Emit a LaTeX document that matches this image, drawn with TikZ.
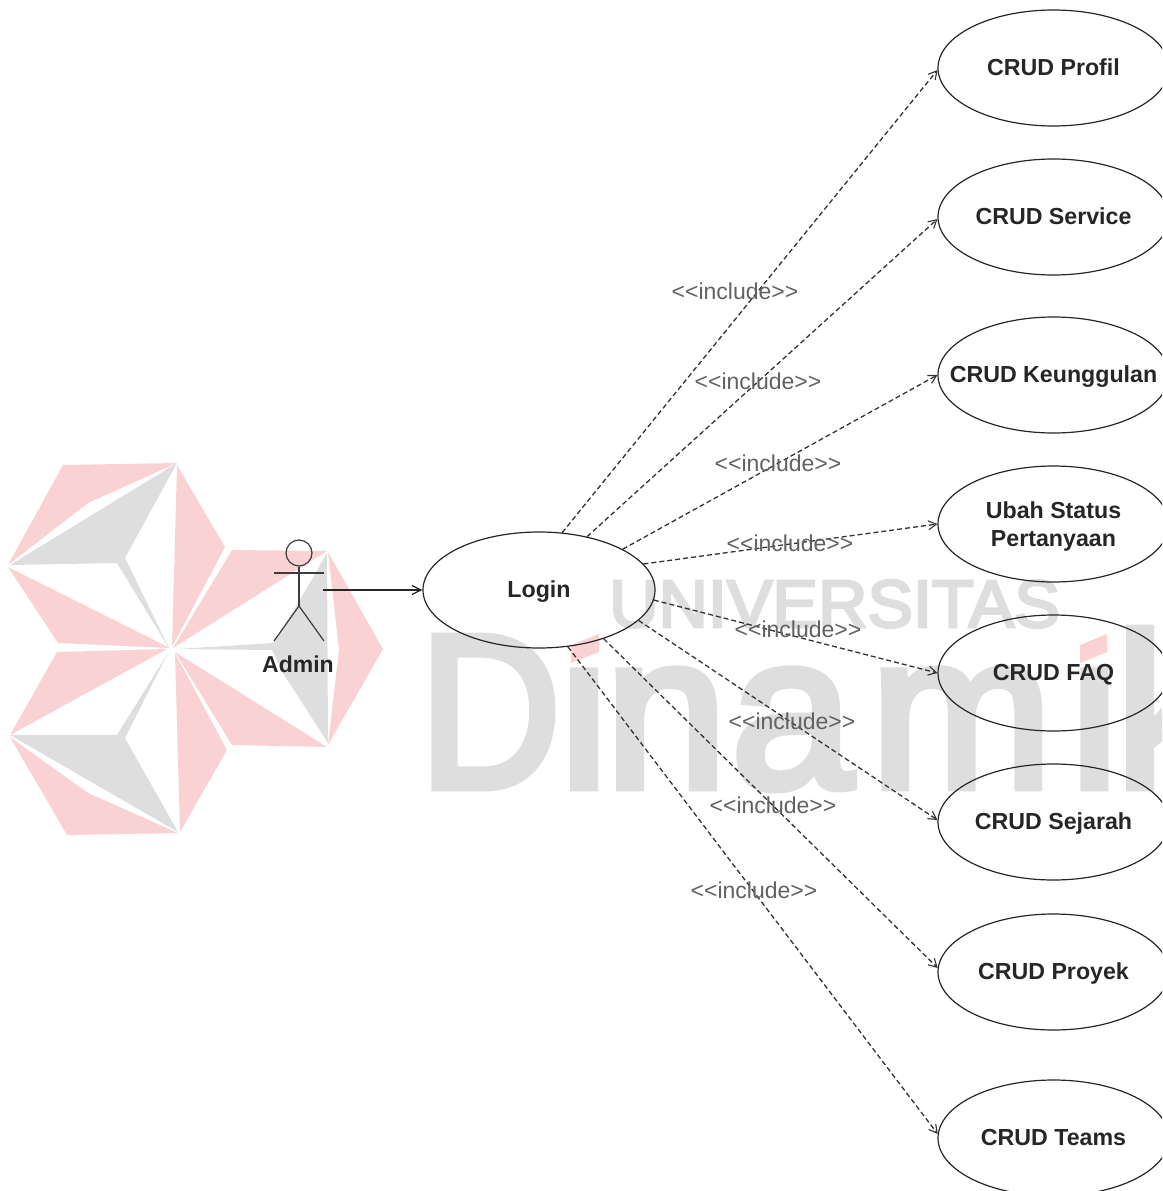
\documentclass[tikz,border=0pt]{standalone}
\usepackage{graphicx}
\usepackage{fontspec}
\setmainfont{Liberation Sans}
\newfontfamily\wmfont[FakeBold=4]{Liberation Sans}
\usetikzlibrary{arrows.meta,shapes.geometric}
\definecolor{wmgray}{HTML}{DEDEDE}
\definecolor{wmpink}{HTML}{FAD2D4}
\definecolor{ink}{HTML}{262626}
\newcommand{\incltxt}{{<}{<}include{>}{>}}
\newcommand{\lowerline}[1]{\raisebox{-2pt}[\height][\depth]{#1}}
\tikzset{
  usecase/.style={draw=ink,line width=1.2pt,ellipse,minimum width=231pt,minimum height=116pt,inner sep=0pt,align=center,text=ink,font=\fontsize{23.2}{28}\selectfont\bfseries},
  oneline/.style={text height=17.5pt,text depth=2pt},
  incl/.style={draw=black!80,line width=1.3pt,dash pattern=on 5pt off 3pt,-{Straight Barb[length=8pt,width=9pt,line width=1.1pt]}},
  incllabel/.style={text=black!62,inner sep=0pt,font=\fontsize{23}{26}\selectfont},
  assoc/.style={draw=ink,line width=1.2pt,-{Straight Barb[length=9pt,width=9pt,line width=1.2pt]}},
  actorline/.style={draw=ink!90,line width=1.2pt},
  pinkp/.style={fill=wmpink,draw=none},
  grayp/.style={fill=wmgray,draw=none}
}
\begin{document}
\begin{tikzpicture}[x=1pt,y=-1pt]
\useasboundingbox (0,0) rectangle (1162,1191);
\clip (0,0) rectangle (1162,1191);
% watermark logo
\fill[pinkp] (63,465)--(177,463)--(88,503)--(8,565)--cycle;
\fill[grayp] (10,565)--(177,463)--(125,558)--(170,650)--(117,563)--cycle;
\fill[pinkp] (8,567)--(170,648)--(58,643)--cycle;
\fill[pinkp] (177,465)--(225,547)--(172,647)--cycle;
\fill[pinkp] (232,550)--(327,551)--(173,648)--cycle;
\fill[grayp] (327,553)--(328,743)--(283,673)--(272,650)--(177,649)--(273,643)--(300,600)--cycle;
\fill[pinkp] (328,552)--(383,649)--(328,745)--(339,650)--cycle;
\fill[pinkp] (175,652)--(327,747)--(232,745)--cycle;
\fill[pinkp] (175,653)--(227,750)--(180,832)--cycle;
\fill[pinkp] (57,652)--(167,649)--(10,735)--cycle;
\fill[grayp] (10,735)--(117,735)--(168,653)--(125,738)--(178,832)--cycle;
\fill[pinkp] (10,737)--(88,793)--(178,833)--(67,835)--cycle;
% watermark text
\node[anchor=base west,inner sep=0pt,text=wmgray,xscale=1.02,font=\fontsize{67}{70}\selectfont\wmfont] (wmuni) at (609,627) {UNIVERSITAS};
\node[anchor=base west,inner sep=0pt,text=wmgray,font=\fontsize{218}{230}\selectfont\wmfont] (wmdin) at (419,787) {\scalebox{.9}[1]{D}\kern-1pt i\kern-3pt n\kern5pt a\kern18pt m\kern18pt i\kern-3pt k};
\fill[white] (564,620) rectangle (606,667);
\fill[white] (1075,620) rectangle (1114,667);
\fill[pinkp] (571,645)--(599,634)--(599,652)--(571,663)--cycle;
\fill[pinkp] (1080,645)--(1107,634)--(1107,652)--(1080,663)--cycle;
% actor
\node[circle,draw=ink!90,line width=1.2pt,minimum size=26pt,inner sep=0pt] (head) at (299,553) {};
\coordinate (hip) at (299,606);
\coordinate (armL) at (274,573);
\coordinate (armR) at (324,573);
\coordinate (legL) at (274,641);
\coordinate (legR) at (324,641);
\coordinate (hand) at (323,590);
\draw[actorline] (head.south) -- (hip);
\draw[actorline] (armL) -- (armR);
\draw[actorline] (legL) -- (hip) -- (legR);
\node[text=ink,inner sep=0pt,font=\fontsize{23}{26}\selectfont\bfseries] (admin) at (298,664) {Admin};
% use cases
\node[usecase,oneline,minimum width=232pt] (login) at (539,590) {Login};
\node[usecase,oneline] (profil) at (1053.5,68) {CRUD Profil};
\node[usecase,oneline] (service) at (1053.5,217) {CRUD Service};
\node[usecase,oneline,inner xsep=-25pt] (keung) at (1053.5,375) {CRUD Keunggulan};
\node[usecase] (ubah) at (1053.5,524) {\lowerline{Ubah Status}\\\lowerline{Pertanyaan}};
\node[usecase,oneline] (faq) at (1053.5,673) {CRUD FAQ};
\node[usecase,oneline] (sejarah) at (1053.5,822) {CRUD Sejarah};
\node[usecase,oneline] (proyek) at (1053.5,972) {CRUD Proyek};
\node[usecase,oneline] (teams) at (1053.5,1138) {CRUD Teams};
% connectors
\draw[assoc] (hand) -- (login.west);
\draw[incl] (login.68) -- (profil.181.5);
\draw[incl] (login.48) -- (service.181.5);
\draw[incl] (login.26) -- (keung.west);
\draw[incl] (login.14) -- (ubah.west);
\draw[incl] (login.-5) -- (faq.west);
\draw[incl] (login.-17) -- (sejarah.179);
\draw[incl] (login.-37) -- (proyek.178);
\draw[incl] (login.-63) -- (teams.178.5);
% labels
\node[incllabel] (l1) at (735,291) {\incltxt};
\node[incllabel] (l2) at (758,381) {\incltxt};
\node[incllabel] (l3) at (778,463) {\incltxt};
\node[incllabel] (l4) at (790,543) {\incltxt};
\node[incllabel] (l5) at (798,629) {\incltxt};
\node[incllabel] (l6) at (792,721) {\incltxt};
\node[incllabel] (l7) at (773,805) {\incltxt};
\node[incllabel] (l8) at (754,890) {\incltxt};
\end{tikzpicture}
\end{document}
